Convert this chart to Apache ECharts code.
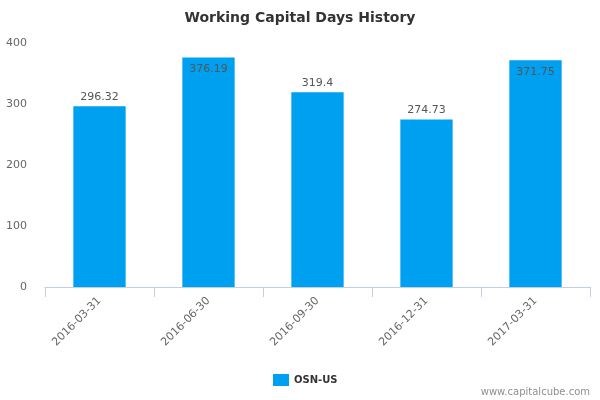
<!DOCTYPE html>
<html><head><meta charset="utf-8">
<script src="https://cdn.jsdelivr.net/npm/echarts@6/dist/echarts.min.js"></script>
<style>html,body{margin:0;padding:0;background:#fff}#c{width:600px;height:400px}</style>
</head><body><div id="c"></div>
<script>
const categories = ['2016-03-31','2016-06-30','2016-09-30','2016-12-31','2017-03-31'];
const values = [296.32, 376.19, 319.4, 274.73, 371.75];
const yTicks = [0, 100, 200, 300, 400];
const seriesName = 'OSN-US';

const chart = echarts.init(document.getElementById('c'), null, {renderer:'canvas'});
const font = 'DejaVu Sans, Verdana, sans-serif';
chart.setOption({
  animation: false,
  backgroundColor: '#fff',
  title: {
    text: 'Working Capital Days History',
    left: 'center', top: 6,
    textStyle: {fontFamily: font, fontSize: 14, fontWeight: 'bold', color: '#333'}
  },
  legend: {
    data: [seriesName],
    bottom: 9, left: 268,
    itemWidth: 16, itemHeight: 12, itemGap: 5,
    icon: 'rect',
    textStyle: {fontFamily: font, fontSize: 10, fontWeight: 'bold', color: '#333'}
  },
  graphic: [{
    type: 'text', right: 10, bottom: 3,
    style: {text: 'www.capitalcube.com', font: '10px ' + font, fill: '#909090'}
  }],
  grid: {left: 45, right: 10, top: 43, bottom: 113, containLabel: false},
  xAxis: {
    type: 'category', data: categories,
    axisLine: {lineStyle: {color: '#C0D0E0', width: 1}},
    axisTick: {show: true, interval: 0, length: 10, lineStyle: {color: '#C0D0E0', width: 1}},
    axisLabel: {rotate: 45, interval: 0, fontFamily: font, fontSize: 11, color: '#666', margin: 12}
  },
  yAxis: {
    type: 'value', min: yTicks[0], max: yTicks[yTicks.length-1], interval: 100,
    splitLine: {show: false},
    axisLine: {show: false}, axisTick: {show: false},
    axisLabel: {fontFamily: font, fontSize: 11, color: '#666', margin: 18}
  },
  series: [{
    name: seriesName, type: 'bar', barWidth: '48%',
    itemStyle: {color: '#00A0F0'},
    data: values.map(v => ({
      value: v,
      label: {position: v > 350 ? 'insideTop' : 'top', distance: v > 350 ? 6 : 4}
    })),
    label: {show: true, fontFamily: font, fontSize: 11, color: '#555'}
  }]
});
</script></body></html>
